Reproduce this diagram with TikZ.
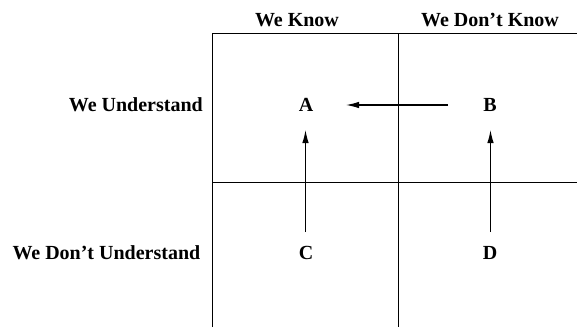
\documentclass[tikz,border=0pt]{standalone}
\usepackage{fontspec}
\setmainfont{Liberation Serif}
\usetikzlibrary{arrows.meta}
\tikzset{
  lbl/.style={font=\fontsize{20}{24}\selectfont\bfseries, inner sep=0pt},
  grid/.style={line width=1.2pt},
  arr/.style={line width=1.2pt, -{Latex[length=13pt,width=6.5pt]}}
}
\begin{document}
\begin{tikzpicture}[x=1pt,y=-1pt]
\useasboundingbox (0,0) rectangle (577,327);
% grid
\draw[grid] (212.5,327) -- (212.5,33.5) -- (577,33.5);
\draw[grid] (398.5,33.5) -- (398.5,327);
\draw[grid] (212.5,182.5) -- (577,182.5);
% headers
\node[lbl] (hk) at (297,20) {We Know};
\node[lbl] (hdk) at (490,20) {We Don’t Know};
\node[lbl, anchor=east] (hu) at (203,105) {We Understand};
\node[lbl, anchor=east] (hdu) at (200.5,253) {We Don’t Understand};
% cells
\node[lbl] (A) at (306,105) {A};
\node[lbl] (B) at (490,105) {B};
\node[lbl] (C) at (306,253) {C};
\node[lbl] (D) at (490,253) {D};
% arrow end points
\coordinate (bs) at (448,105);
\coordinate (at1) at (346,105);
\coordinate (cs) at (305.5,232);
\coordinate (at2) at (305.5,130);
\coordinate (ds) at (490.5,232);
\coordinate (bt) at (490.5,130);
\draw[arr] (bs) -- (at1);
\draw[arr] (cs) -- (at2);
\draw[arr] (ds) -- (bt);
\end{tikzpicture}
\end{document}
